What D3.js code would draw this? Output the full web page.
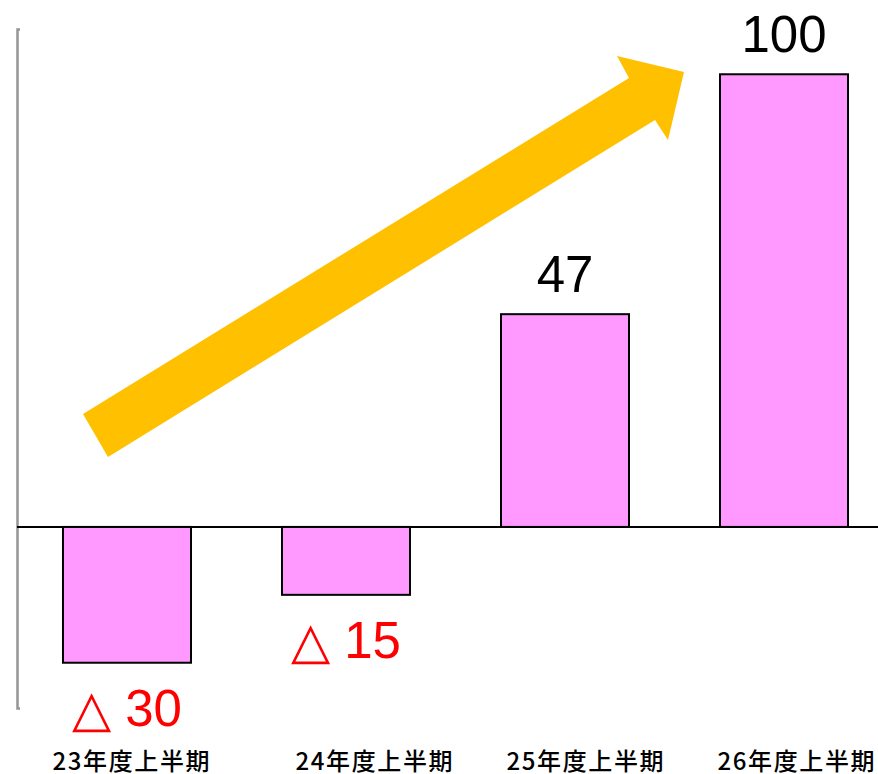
<!DOCTYPE html>
<html>
<head>
<meta charset="utf-8">
<script src="https://cdn.jsdelivr.net/npm/d3@7"></script>
<style>
  html, body { margin: 0; padding: 0; background: #fff; }
  svg { display: block; }
</style>
</head>
<body>
<svg id="chart" width="878" height="774"></svg>
<script>
// ---- data ----
const categories = ["23年度上半期", "24年度上半期", "25年度上半期", "26年度上半期"];
const values = [-30, -15, 47, 100];
const valueLabels = ["△ 30", "△ 15", "47", "100"];
const yDomain = [-40, 110];

// ---- layout ----
const W = 878, H = 774;
const svg = d3.select("#chart");

const x = d3.scaleBand()
  .domain(categories)
  .range([17, 894])
  .paddingInner(0.4155)
  .paddingOuter(0.21);

const y = d3.scaleLinear().domain(yDomain).range([708, 29]);

// vertical axis line
const yAxis = d3.axisLeft(y).tickValues([]).tickSizeOuter(-3);
const gy = svg.append("g").attr("transform", "translate(17,0)").call(yAxis);
gy.select(".domain").attr("stroke", "#959595").attr("stroke-width", 2.5);

// bars
svg.append("g").selectAll("rect")
  .data(values)
  .join("rect")
  .attr("x", (d, i) => x(categories[i]))
  .attr("width", x.bandwidth())
  .attr("y", d => y(Math.max(0, d)))
  .attr("height", d => Math.abs(y(d) - y(0)))
  .attr("fill", "#FF99FF")
  .attr("stroke", "#000")
  .attr("stroke-width", 2);

// zero line
svg.append("line")
  .attr("x1", 17).attr("x2", W)
  .attr("y1", y(0)).attr("y2", y(0))
  .attr("stroke", "#000").attr("stroke-width", 2);

// value labels
svg.append("g").selectAll("text")
  .data(values)
  .join("text")
  .attr("x", (d, i) => x(categories[i]) + x.bandwidth() / 2)
  .attr("y", d => d >= 0 ? y(d) - 22 : y(d) + 63)
  .attr("text-anchor", "middle")
  .attr("font-family", "'Liberation Sans', Arial, sans-serif")
  .attr("font-size", 51)
  .attr("fill", d => d < 0 ? "#FF0000" : "#000")
  .text((d, i) => valueLabels[i]);

// category labels
const labelNudge = [4, 28, 20, 12];
svg.append("g").selectAll("text")
  .data(categories)
  .join("text")
  .attr("x", (d, i) => x(d) + x.bandwidth() / 2 + labelNudge[i])
  .attr("y", 770)
  .attr("text-anchor", "middle")
  .attr("font-family", "'Noto Sans CJK JP', sans-serif")
  .attr("font-size", 24)
  .attr("font-weight", 500)
  .attr("textLength", 157)
  .attr("lengthAdjust", "spacing")
  .attr("fill", "#000")
  .text(d => d);

// trend arrow
const arrow = [[83,414],[629,78],[617,56],[684,72],[668,140],[655,120],[108,457]];
svg.append("path")
  .attr("d", d3.line()(arrow) + "Z")
  .attr("fill", "#FFC000");
</script>
</body>
</html>
